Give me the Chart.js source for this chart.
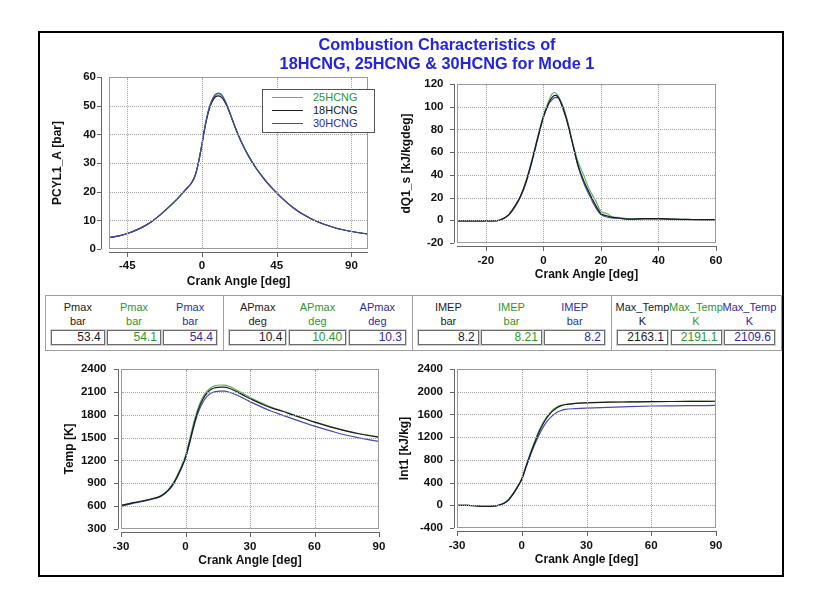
<!DOCTYPE html>
<html>
<head>
<meta charset="utf-8">
<script src="https://cdn.jsdelivr.net/npm/chart.js@4.4.1/dist/chart.umd.min.js"></script>
<style>
html,body{margin:0;padding:0;background:#fff;}
body{width:815px;height:601px;position:relative;overflow:hidden;font-family:"Liberation Sans",Arial,sans-serif;}
.abs{position:absolute;}
#frame{left:38px;top:31px;width:746px;height:546px;border:2px solid #000;box-sizing:border-box;}
#title{left:137px;top:35px;width:600px;text-align:center;font-weight:bold;font-size:16.3px;line-height:19px;color:#2323e0;z-index:5;}
#legend{left:262px;top:89px;width:113px;height:44px;border:1px solid #555;background:#fff;box-sizing:border-box;z-index:5;}
.lrow{position:absolute;left:0;width:111px;height:13px;font-size:11px;line-height:13px;}
.lline{position:absolute;left:9px;top:6px;width:31px;height:0;border-top:1px solid;}
.ltext{position:absolute;left:50px;top:0;}
.grp{position:absolute;top:295px;height:56px;border:1px solid #a0a0a0;box-sizing:border-box;background:#fff;}
.hdr{position:absolute;text-align:center;white-space:nowrap;font-size:11px;line-height:14px;}
.val{position:absolute;top:34px;height:15px;border:1px solid #6a6a6a;box-shadow:0 0 0 1px #d0d0d0;box-sizing:border-box;text-align:right;font-size:12px;line-height:13px;padding-right:3px;background:#fff;}
canvas{position:absolute;z-index:2;}
.gv{position:absolute;z-index:3;width:0;border-left:1px dotted #a4a4a4;pointer-events:none;}
.gh{position:absolute;z-index:3;height:0;border-top:1px dotted #a4a4a4;pointer-events:none;}
</style>
</head>
<body>
<div id="frame" class="abs"></div>
<div id="title" class="abs">Combustion Characteristics of<br>18HCNG, 25HCNG &amp; 30HCNG for Mode 1</div>
<div id="legend" class="abs"></div>
<script>
// ---------------- DATA ----------------
const seriesNames = ['18HCNG', '25HCNG', '30HCNG'];
const legendOrder = ['25HCNG', '18HCNG', '30HCNG'];

// Cylinder pressure PCYL1_A [bar] vs crank angle
const pressureAngle = [-56,-50,-45,-40,-35,-30,-25,-20,-15,-10,-6,-4,-2,0,2,4,6,8,10,12,14,16,18,20,24,28,32,36,40,45,50,55,60,70,80,90,100];
const pressure18 = [3.9,4.6,5.4,6.5,7.9,9.7,12.0,14.6,17.4,20.6,23.3,25.8,30.5,36.5,43.0,48.0,51.3,53.0,53.4,52.8,51.0,48.5,45.5,42.5,37.0,32.5,28.7,25.5,22.6,19.6,16.8,14.4,12.4,9.4,7.4,6.1,5.2];
const pressure25 = [3.9,4.6,5.4,6.5,7.9,9.7,12.0,14.6,17.4,20.6,23.3,25.8,30.5,36.6,43.2,48.4,51.8,53.6,54.1,53.5,51.5,48.8,45.6,42.5,37.0,32.5,28.7,25.5,22.6,19.6,16.8,14.4,12.4,9.4,7.4,6.1,5.2];
const pressure30 = [3.9,4.6,5.4,6.5,7.9,9.7,12.0,14.6,17.4,20.6,23.3,25.8,30.5,36.7,43.4,48.6,52.0,53.9,54.4,53.7,51.6,48.8,45.5,42.4,37.0,32.5,28.7,25.5,22.6,19.6,16.8,14.4,12.4,9.4,7.4,6.1,5.2];
const pressureXTicks = [-45, 0, 45, 90];
const pressureYTicks = [0, 10, 20, 30, 40, 50, 60];

// Heat release rate dQ1_s [kJ/kgdeg]
const dqAngle = [-30,-20,-16,-14,-12,-10,-8,-6,-4,-2,0,2,3,4,5,6,8,10,12,14,16,18,20,22,24,26,30,35,40,45,50,55,60];
const dq18 = [-0.5,-0.5,-0.3,1.5,5,12,21,34,52,72,91,104,108,110,109,104,89,69,49,35,24,14,6,4,2.5,2,1,1.5,1.5,1,0.8,0.5,0.5];
const dq25 = [-0.5,-0.5,-0.3,1.5,5,12,21,35,53,73,92,106,111,112.5,110,105,90,70,52,40,27,18,8,6,3,2.5,1.2,1.5,1.5,1.1,0.8,0.5,0.4];
const dq30 = [-0.5,-0.5,-0.3,1.2,4.5,11,20,33,51,71,90,103,106,108,108,105,91,70,48,33,22,12,5,3,2,1.8,0.8,1.2,1.2,0.8,0.6,0.4,0.3];
const dqXTicks = [-20, 0, 20, 40, 60];
const dqYTicks = [-20, 0, 20, 40, 60, 80, 100, 120];

// Gas temperature Temp [K]
const tempAngle = [-30,-25,-20,-15,-12,-10,-8,-6,-4,-2,0,2,4,6,8,10,12,14,16,18,20,24,28,32,36,40,45,50,55,60,65,70,75,80,85,90];
const temp18 = [608,640,668,700,725,760,810,880,980,1100,1240,1450,1680,1870,2000,2085,2135,2155,2163,2162,2150,2100,2040,1985,1935,1890,1845,1797,1750,1703,1660,1620,1584,1553,1527,1505];
const temp25 = [612,642,670,702,728,765,818,890,995,1120,1265,1485,1715,1900,2030,2110,2158,2182,2190,2189,2176,2122,2058,2000,1946,1898,1851,1802,1754,1707,1664,1624,1588,1557,1531,1509];
const temp30 = [600,632,662,695,720,755,805,872,970,1090,1230,1435,1655,1835,1960,2040,2085,2104,2110,2109,2098,2055,2000,1945,1893,1845,1795,1745,1697,1650,1607,1567,1530,1499,1472,1449];
const tempXTicks = [-30, 0, 30, 60, 90];
const tempYTicks = [300, 600, 900, 1200, 1500, 1800, 2100, 2400];

// Cumulative heat release Int1 [kJ/kg]
const intAngle = [-30,-25,-20,-15,-12,-10,-8,-6,-4,-2,0,2,4,6,8,10,12,14,16,18,20,25,30,40,50,60,70,80,90];
const int18 = [0,0,-15,-18,-10,10,40,100,200,320,460,680,900,1100,1290,1440,1560,1650,1710,1750,1770,1795,1805,1815,1820,1825,1828,1830,1832];
const int25 = [0,0,-15,-18,-10,12,45,108,210,335,475,700,925,1125,1315,1465,1580,1668,1725,1760,1776,1796,1806,1815,1820,1825,1828,1830,1832];
const int30 = [0,0,-15,-18,-10,10,40,98,196,315,455,670,880,1070,1240,1380,1490,1570,1630,1665,1688,1703,1712,1725,1738,1748,1752,1755,1758];
const intXTicks = [-30, 0, 30, 60, 90];
const intYTicks = [-400, 0, 400, 800, 1200, 1600, 2000, 2400];

// Summary table
const paramNames = ['Pmax', 'APmax', 'IMEP', 'Max_Temp'];
const paramUnits = ['bar', 'deg', 'bar', 'K'];
const values18 = ['53.4', '10.4', '8.2', '2163.1'];
const values25 = ['54.1', '10.40', '8.21', '2191.1'];
const values30 = ['54.4', '10.3', '8.2', '2109.6'];

// ---------------- STYLE ----------------
const lineColor = {'18HCNG': '#1c1c1c', '25HCNG': '#5db65d', '30HCNG': '#4a4ab0'};
const textColor = {'18HCNG': '#1c1c1c', '25HCNG': '#2e962e', '30HCNG': '#2d2da6'};
const tickFont = {family: '"Liberation Sans", Arial, sans-serif', size: 11.5, weight: 'bold'};
const titleFont = {family: '"Liberation Sans", Arial, sans-serif', size: 12, weight: 'bold'};

// legend
const legendEl = document.getElementById('legend');
legendOrder.forEach((name, i) => {
  const row = document.createElement('div');
  row.className = 'lrow';
  row.style.top = (1 + i * 13) + 'px';
  row.innerHTML = `<div class="lline" style="border-color:${lineColor[name]}"></div><div class="ltext" style="color:${textColor[name]}">${name}</div>`;
  legendEl.appendChild(row);
});

// table
const groupX = [[45, 223], [223, 412], [412, 611], [611, 781]];
const tableValues = {'18HCNG': values18, '25HCNG': values25, '30HCNG': values30};
paramNames.forEach((p, g) => {
  const [x0, x1] = groupX[g];
  const grp = document.createElement('div');
  grp.className = 'grp';
  grp.style.left = x0 + 'px';
  grp.style.width = (x1 - x0 + 1) + 'px';
  const inner = x1 - x0 - 1;
  const w = (inner - 5 - 6 - 5) / 3;
  seriesNames.forEach((s, i) => {
    const bx = 5 + i * (w + 2.5);
    const h1 = document.createElement('div');
    h1.className = 'hdr';
    h1.style.cssText = `left:${bx - 20}px;width:${w + 40}px;top:4px;color:${textColor[s]}`;
    h1.textContent = p;
    const h2 = document.createElement('div');
    h2.className = 'hdr';
    h2.style.cssText = `left:${bx - 20}px;width:${w + 40}px;top:18px;color:${textColor[s]}`;
    h2.textContent = paramUnits[g];
    const v = document.createElement('div');
    v.className = 'val';
    v.style.cssText += `left:${bx}px;width:${w}px;color:${textColor[s]}`;
    v.textContent = tableValues[s][g];
    grp.appendChild(h1); grp.appendChild(h2); grp.appendChild(v);
  });
  document.body.appendChild(grp);
});

// frame + offset axes plugin
const framePlugin = {
  id: 'frame',
  afterDatasetsDraw(chart, args, opts) {
    const {ctx, chartArea: a, scales: {x, y}} = chart;
    const L = Math.round(a.left), T = Math.round(a.top), R = Math.round(a.right), B = Math.round(a.bottom);
    ctx.save();
    ctx.fillStyle = '#9a9a9a';
    ctx.fillRect(L, T, R - L, 1);
    ctx.fillRect(L, B - 1, R - L, 1);
    ctx.fillRect(L, T, 1, B - T);
    ctx.fillRect(R - 1, T, 1, B - T);
    ctx.fillStyle = '#666';
    const ax = Math.round(a.left - opts.offY);
    ctx.fillRect(ax, T, 1, B - T);
    y.ticks.forEach(t => { const py = Math.round(y.getPixelForValue(t.value)); ctx.fillRect(ax - 4, py, 4, 1); });
    const ay = Math.round(a.bottom + opts.offX);
    ctx.fillRect(L, ay, R - L, 1);
    x.ticks.forEach(t => { const px = Math.round(x.getPixelForValue(t.value)); ctx.fillRect(px, ay, 1, 5); });
    ctx.restore();
  }
};

function makeDatasets(angle, bySeries, drawOrder) {
  return drawOrder.map(name => ({
    label: name,
    data: angle.map((a, i) => ({x: a, y: bySeries[name][i]})),
    borderColor: lineColor[name],
    borderWidth: 1.2,
    pointRadius: 0,
    fill: false,
    cubicInterpolationMode: 'monotone'
  }));
}

// dotted grid placed from the chart's own scales
function addGrid(chart, P) {
  const a = chart.chartArea, x = chart.scales.x, y = chart.scales.y;
  const L = Math.round(a.left), T = Math.round(a.top), R = Math.round(a.right), B = Math.round(a.bottom);
  x.ticks.forEach(t => {
    const px = Math.round(x.getPixelForValue(t.value));
    if (px < L + 1 || px > R - 2) return;
    const d = document.createElement('div');
    d.className = 'gv';
    d.style.left = (P.canvas.x + px) + 'px';
    d.style.top = (P.canvas.y + T + 1) + 'px';
    d.style.height = (B - T - 2) + 'px';
    document.body.appendChild(d);
  });
  y.ticks.forEach(t => {
    const py = Math.round(y.getPixelForValue(t.value));
    if (py < T + 1 || py > B - 2) return;
    const d = document.createElement('div');
    d.className = 'gh';
    d.style.left = (P.canvas.x + L + 1) + 'px';
    d.style.top = (P.canvas.y + py) + 'px';
    d.style.width = (R - L - 2) + 'px';
    document.body.appendChild(d);
  });
}

function makePanel(P, datasets, xr, yr, xTicks, yTicks, xTitle, yTitle) {
  const canvas = document.createElement('canvas');
  canvas.width = P.canvas.w; canvas.height = P.canvas.h;
  canvas.style.left = P.canvas.x + 'px'; canvas.style.top = P.canvas.y + 'px';
  canvas.style.width = P.canvas.w + 'px'; canvas.style.height = P.canvas.h + 'px';
  document.body.appendChild(canvas);
  const lh = 12 * 1.2;
  const yW = P.area.l - P.canvas.x;
  const xH = P.canvas.y + P.canvas.h - P.area.b;
  const zeroPad = s => { s.paddingLeft = 0; s.paddingRight = 0; s.paddingTop = 0; s.paddingBottom = 0; };
  const chart = new Chart(canvas, {
    type: 'line',
    data: {datasets},
    options: {
      responsive: false, animation: false, devicePixelRatio: 1, events: [],
      layout: {padding: {left: 0, top: P.area.t - P.canvas.y, right: P.canvas.x + P.canvas.w - P.area.r, bottom: 0}},
      plugins: {legend: {display: false}, tooltip: {enabled: false}, frame: {offX: P.offX, offY: P.offY}},
      scales: {
        x: {
          type: 'linear', min: xr[0], max: xr[1],
          afterBuildTicks: s => { s.ticks = xTicks.map(v => ({value: v})); },
          afterFit: s => { s.height = xH; zeroPad(s); },
          grid: {display: false, drawTicks: false, drawOnChartArea: false},
          border: {display: false},
          ticks: {font: tickFont, color: '#111', padding: P.xTickPad, maxRotation: 0, autoSkip: false, callback: v => String(v)},
          title: {display: true, text: xTitle, font: titleFont, color: '#111', padding: {top: 0, bottom: P.canvas.y + P.canvas.h - P.xTitleY - lh / 2}}
        },
        y: {
          type: 'linear', min: yr[0], max: yr[1],
          afterBuildTicks: s => { s.ticks = yTicks.map(v => ({value: v})); },
          afterFit: s => { s.width = yW; zeroPad(s); },
          grid: {display: false, drawTicks: false, drawOnChartArea: false},
          border: {display: false},
          ticks: {font: tickFont, color: '#111', padding: P.yTickPad, autoSkip: false, callback: v => String(v)},
          title: {display: true, text: yTitle, font: titleFont, color: '#111', padding: {top: P.yTitleX - P.canvas.x - lh / 2, bottom: 0}}
        }
      }
    },
    plugins: [framePlugin]
  });
  addGrid(chart, P);
  return chart;
}

// layout of the four panels
const panelTL = {canvas: {x: 42, y: 66, w: 336, h: 224}, area: {l: 109, t: 77, r: 368, b: 249}, yTitleX: 58, xTitleY: 281.5, yTickPad: 13, xTickPad: 10, offX: 3, offY: 8};
const panelTR = {canvas: {x: 398, y: 74, w: 330, h: 212}, area: {l: 457, t: 84, r: 716, b: 243}, yTitleX: 407, xTitleY: 275, yTickPad: 13.5, xTickPad: 11, offX: 3, offY: 3};
const panelBL = {canvas: {x: 52, y: 360, w: 340, h: 212}, area: {l: 121, t: 369, r: 379, b: 529}, yTitleX: 69.5, xTitleY: 561, yTickPad: 14.5, xTickPad: 11, offX: 3, offY: 3};
const panelBR = {canvas: {x: 396, y: 360, w: 332, h: 212}, area: {l: 457, t: 369, r: 716, b: 528}, yTitleX: 405, xTitleY: 560, yTickPad: 14, xTickPad: 11, offX: 3, offY: 3};

makePanel(panelTL,
  makeDatasets(pressureAngle, {'18HCNG': pressure18, '25HCNG': pressure25, '30HCNG': pressure30}, ['30HCNG', '18HCNG', '25HCNG']),
  [-56, 100], [0, 60], pressureXTicks, pressureYTicks, 'Crank Angle [deg]', 'PCYL1_A [bar]');
makePanel(panelTR,
  makeDatasets(dqAngle, {'18HCNG': dq18, '25HCNG': dq25, '30HCNG': dq30}, ['18HCNG', '30HCNG', '25HCNG']),
  [-30, 60], [-20, 120], dqXTicks, dqYTicks, 'Crank Angle [deg]', 'dQ1_s [kJ/kgdeg]');
makePanel(panelBL,
  makeDatasets(tempAngle, {'18HCNG': temp18, '25HCNG': temp25, '30HCNG': temp30}, ['18HCNG', '30HCNG', '25HCNG']),
  [-30, 90], [300, 2400], tempXTicks, tempYTicks, 'Crank Angle [deg]', 'Temp [K]');
makePanel(panelBR,
  makeDatasets(intAngle, {'18HCNG': int18, '25HCNG': int25, '30HCNG': int30}, ['18HCNG', '30HCNG', '25HCNG']),
  [-30, 90], [-400, 2400], intXTicks, intYTicks, 'Crank Angle [deg]', 'Int1 [kJ/kg]');
</script>
</body>
</html>
